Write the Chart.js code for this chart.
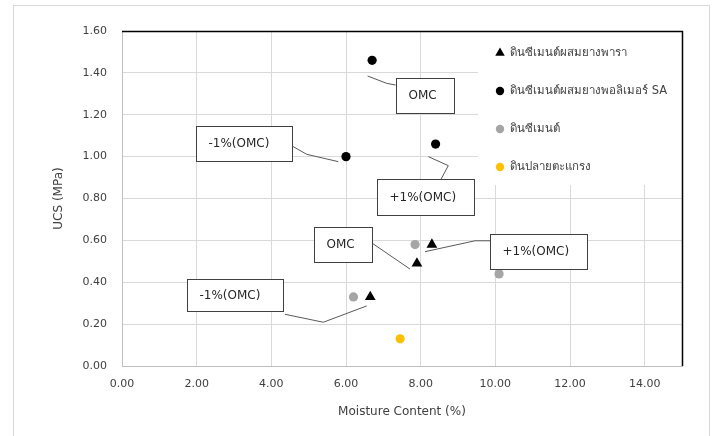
<!DOCTYPE html>
<html>
<head>
<meta charset="utf-8">
<script src="https://cdn.jsdelivr.net/npm/chart.js@4.4.1/dist/chart.umd.min.js"></script>
<style>
  html, body { margin: 0; padding: 0; background: #fff; }
</style>
</head>
<body>
<canvas id="ucsChart" width="715" height="436"></canvas>
<script>
// series names (legend)
const seriesNames = ['ดินซีเมนต์ผสมยางพารา', 'ดินซีเมนต์ผสมยางพอลิเมอร์ SA', 'ดินซีเมนต์', 'ดินปลายตะแกรง'];

// moisture content (%) / UCS (MPa) per series
const rubberX = [6.65, 7.9, 8.3];
const rubberY = [0.33, 0.49, 0.58];
const polymerX = [6.0, 6.7, 8.4];
const polymerY = [1.00, 1.46, 1.06];
const cementX = [6.2, 7.85, 10.1];
const cementY = [0.33, 0.58, 0.44];
const soilX = [7.45];
const soilY = [0.13];

// tick labels
const xTicks = [0, 2, 4, 6, 8, 10, 12, 14];
const yTicks = [0, 0.2, 0.4, 0.6, 0.8, 1.0, 1.2, 1.4, 1.6];

// callout labels
const calloutTexts = ['OMC', '-1%(OMC)', '+1%(OMC)', 'OMC', '+1%(OMC)', '-1%(OMC)'];

const FONT = "'DejaVu Sans', 'Noto Sans', sans-serif";
const TEXT = '#404040';

function toPoints(xs, ys) {
  return xs.map((v, i) => ({ x: v, y: ys[i] }));
}

// callout layout, in axis units: box [x0, x1, y0, y1] and leader line
const calloutLayout = [
  { box: [7.33, 8.89, 1.206, 1.377], line: [[6.58, 1.385], [7.09, 1.350], [7.33, 1.342]] },
  { box: [1.974, 4.554, 0.978, 1.148], line: [[4.554, 1.051], [4.948, 1.011], [5.794, 0.976]] },
  { box: [6.839, 9.429, 0.721, 0.892], line: [[8.205, 1.000], [8.740, 0.957], [8.545, 0.892]] },
  { box: [5.151, 6.705, 0.495, 0.662], line: [[6.705, 0.586], [7.714, 0.463]] },
  { box: [9.857, 12.448, 0.462, 0.630], line: [[9.857, 0.598], [9.455, 0.598], [8.116, 0.546]] },
  { box: [1.733, 4.305, 0.263, 0.417], line: [[4.366, 0.247], [5.392, 0.209], [6.555, 0.287]] },
];

function drawMarker(ctx, style, r, cx, cy, color) {
  ctx.fillStyle = color;
  ctx.beginPath();
  if (style === 'triangle') {
    ctx.moveTo(cx, cy - r);
    ctx.lineTo(cx + r * 0.866, cy + r / 2);
    ctx.lineTo(cx - r * 0.866, cy + r / 2);
    ctx.closePath();
  } else {
    ctx.arc(cx, cy, r, 0, Math.PI * 2);
  }
  ctx.fill();
}

const framePlugin = {
  id: 'frame',
  beforeDraw(chart) {
    const ctx = chart.ctx;
    ctx.save();
    ctx.fillStyle = '#fff';
    ctx.fillRect(0, 0, chart.width, chart.height);
    ctx.strokeStyle = '#d9d9d9';
    ctx.lineWidth = 1;
    ctx.strokeRect(13.5, 5.5, 696, 440);
    ctx.restore();
  },
  afterDatasetsDraw(chart) {
    const { ctx, scales: { x, y }, chartArea } = chart;
    ctx.save();
    // callouts
    ctx.font = '12px ' + FONT;
    ctx.textBaseline = 'middle';
    calloutLayout.forEach((c, i) => {
      ctx.strokeStyle = '#595959';
      ctx.lineWidth = 1;
      ctx.beginPath();
      c.line.forEach((p, j) => {
        const px = x.getPixelForValue(p[0]);
        const py = y.getPixelForValue(p[1]);
        if (j === 0) ctx.moveTo(px, py); else ctx.lineTo(px, py);
      });
      ctx.stroke();
      const left = Math.round(x.getPixelForValue(c.box[0])) + 0.5;
      const right = Math.round(x.getPixelForValue(c.box[1])) + 0.5;
      const top = Math.round(y.getPixelForValue(c.box[3])) + 0.5;
      const bottom = Math.round(y.getPixelForValue(c.box[2])) + 0.5;
      ctx.fillStyle = '#fff';
      ctx.fillRect(left, top, right - left, bottom - top);
      ctx.strokeStyle = '#404040';
      ctx.strokeRect(left, top, right - left, bottom - top);
      ctx.fillStyle = '#262626';
      ctx.fillText(calloutTexts[i], left + 12, (top + bottom) / 2);
    });

    // legend box
    ctx.fillStyle = '#fff';
    ctx.fillRect(478, chartArea.top, chartArea.right - 478, 185 - chartArea.top);
    ctx.font = '11.5px ' + FONT;
    ctx.textAlign = 'left';
    chart.data.datasets.forEach((ds, i) => {
      const rowY = 53 + i * 38;
      const style = ds.pointStyle;
      drawMarker(ctx, style, style === 'triangle' ? 5.5 : 4.2, 500, rowY, ds.backgroundColor);
      ctx.fillStyle = '#404040';
      ctx.fillText(ds.label, 510, rowY);
    });

    // top / right border of the plot
    ctx.strokeStyle = '#000';
    ctx.lineWidth = 1.5;
    ctx.beginPath();
    ctx.moveTo(chartArea.left, chartArea.top + 0.5);
    ctx.lineTo(chartArea.right + 0.5, chartArea.top + 0.5);
    ctx.lineTo(chartArea.right + 0.5, chartArea.bottom);
    ctx.stroke();
    ctx.restore();
  }
};

const ctx = document.getElementById('ucsChart').getContext('2d');
const ucsChart = new Chart(ctx, {
  type: 'scatter',
  data: {
    datasets: [
      { label: seriesNames[0], data: toPoints(rubberX, rubberY), pointStyle: 'triangle', pointRadius: 6.2, backgroundColor: '#000000', borderWidth: 0 },
      { label: seriesNames[1], data: toPoints(polymerX, polymerY), pointStyle: 'circle', pointRadius: 4.6, backgroundColor: '#000000', borderWidth: 0 },
      { label: seriesNames[2], data: toPoints(cementX, cementY), pointStyle: 'circle', pointRadius: 4.6, backgroundColor: '#a5a5a5', borderWidth: 0 },
      { label: seriesNames[3], data: toPoints(soilX, soilY), pointStyle: 'circle', pointRadius: 4.6, backgroundColor: '#ffc000', borderWidth: 0 },
    ],
  },
  options: {
    responsive: false,
    animation: false,
    devicePixelRatio: 1,
    layout: { padding: { left: 0, right: 33, top: 31, bottom: 0 } },
    plugins: {
      legend: { display: false },
      tooltip: { enabled: false },
    },
    scales: {
      x: {
        type: 'linear',
        min: 0,
        max: 15,
        afterFit: (s) => { s.height = 70; },
        afterBuildTicks: (s) => { s.ticks = xTicks.map((v) => ({ value: v })); },
        grid: { color: '#d9d9d9', drawTicks: false },
        border: { color: '#bfbfbf' },
        ticks: {
          padding: 12,
          color: TEXT,
          font: { family: FONT, size: 11 },
          callback: (v) => v.toFixed(2),
        },
        title: {
          display: true,
          text: 'Moisture Content (%)',
          color: TEXT,
          font: { family: FONT, size: 12 },
          padding: { top: 0, bottom: 17 },
        },
      },
      y: {
        type: 'linear',
        min: 0,
        max: 1.6,
        afterFit: (s) => { s.width = 122; },
        afterBuildTicks: (s) => { s.ticks = yTicks.map((v) => ({ value: v })); },
        grid: { color: '#d9d9d9', drawTicks: false },
        border: { color: '#bfbfbf' },
        ticks: {
          padding: 15,
          color: TEXT,
          font: { family: FONT, size: 11 },
          callback: (v) => v.toFixed(2),
        },
        title: {
          display: true,
          text: 'UCS (MPa)',
          color: TEXT,
          font: { family: FONT, size: 12 },
          padding: { top: 52, bottom: 0 },
        },
      },
    },
  },
  plugins: [framePlugin],
});
</script>
</body>
</html>
